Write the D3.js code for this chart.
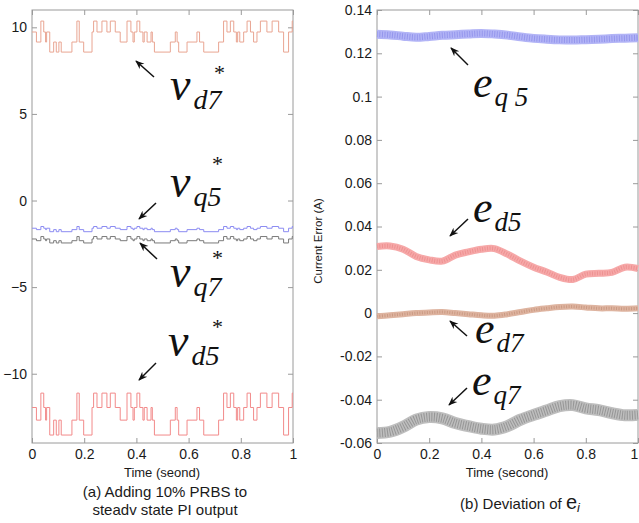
<!DOCTYPE html>
<html><head><meta charset="utf-8">
<script src="https://cdn.jsdelivr.net/npm/d3@7/dist/d3.min.js"></script>
<style>
html,body{margin:0;padding:0;background:#fff;}
svg{display:block;}
</style></head>
<body>
<svg id="c" width="639" height="523"></svg>
<script>
// ---------- DATA ----------
// Left panel: PRBS step signals (step start times, value held until next time)
const prbsTimes = [0,0.017,0.034,0.045,0.052,0.056,0.068,0.083,0.093,0.103,
  0.112,0.153,0.172,0.181,0.198,0.230,0.236,0.249,0.268,0.287,
  0.300,0.319,0.338,0.364,0.379,0.387,0.392,0.402,0.413,0.425,
  0.430,0.441,0.456,0.461,0.469,0.530,0.549,0.556,0.562,0.594,
  0.632,0.642,0.658,0.715,0.734,0.747,0.760,0.773,0.783,0.788,
  0.796,0.811,0.824,0.837,0.849,0.862,0.875,0.900,0.920,0.945,
  0.964,0.983,0.997];
const vd7 = [9.73,9.15,10.36,9.73,9.15,9.73,8.57,9.15,8.57,9.15,
  8.57,9.15,10.36,9.15,8.57,9.73,10.36,9.73,10.36,9.73,
  10.36,9.73,9.15,10.36,9.73,9.15,9.73,10.36,9.73,9.15,
  9.73,9.15,9.73,9.15,8.57,9.15,9.73,9.15,8.57,9.15,
  9.73,9.15,8.57,9.15,10.36,9.73,10.36,9.73,9.15,9.73,
  9.15,9.73,10.36,9.73,9.15,9.73,10.36,9.73,10.36,9.73,
  8.57,9.73,10.36];
const vd5 = [-11.95,-12.68,-11.12,-11.95,-12.68,-11.95,-13.54,-12.68,-13.54,-12.68,
  -13.54,-12.68,-11.12,-12.68,-13.54,-11.95,-11.12,-11.95,-11.12,-11.95,
  -11.12,-11.95,-12.68,-11.12,-11.95,-12.68,-11.95,-11.12,-11.95,-12.68,
  -11.95,-12.68,-11.95,-12.68,-13.54,-12.68,-11.95,-12.68,-13.54,-12.68,
  -11.95,-12.68,-13.54,-12.68,-11.12,-11.95,-11.12,-11.95,-12.68,-11.95,
  -12.68,-11.95,-11.12,-11.95,-12.68,-11.95,-11.12,-11.95,-11.12,-11.95,
  -13.54,-11.95,-11.12];
const vq5 = [-1.60,-1.68,-1.50,-1.60,-1.68,-1.60,-1.80,-1.68,-1.80,-1.68,
  -1.80,-1.68,-1.50,-1.68,-1.80,-1.60,-1.50,-1.60,-1.50,-1.60,
  -1.50,-1.60,-1.68,-1.50,-1.60,-1.68,-1.60,-1.50,-1.60,-1.68,
  -1.60,-1.68,-1.60,-1.68,-1.80,-1.68,-1.60,-1.68,-1.80,-1.68,
  -1.60,-1.68,-1.80,-1.68,-1.50,-1.60,-1.50,-1.60,-1.68,-1.60,
  -1.68,-1.60,-1.50,-1.60,-1.68,-1.60,-1.50,-1.60,-1.50,-1.60,
  -1.80,-1.60,-1.50];
const vq7 = [-2.22,-2.32,-2.08,-2.22,-2.32,-2.22,-2.45,-2.32,-2.45,-2.32,
  -2.45,-2.32,-2.08,-2.32,-2.45,-2.22,-2.08,-2.22,-2.08,-2.22,
  -2.08,-2.22,-2.32,-2.08,-2.22,-2.32,-2.22,-2.08,-2.22,-2.32,
  -2.22,-2.32,-2.22,-2.32,-2.45,-2.32,-2.22,-2.32,-2.45,-2.32,
  -2.22,-2.32,-2.45,-2.32,-2.08,-2.22,-2.08,-2.22,-2.32,-2.22,
  -2.32,-2.22,-2.08,-2.22,-2.32,-2.22,-2.08,-2.22,-2.08,-2.22,
  -2.45,-2.22,-2.08];
const leftYTicks = [10,5,0,-5,-10];
const xTicks = [0,0.2,0.4,0.6,0.8,1];

// Right panel: current error bands (centre values)
const errTimes = [0,0.05,0.1,0.15,0.2,0.25,0.3,0.35,0.4,0.45,0.5,0.55,0.6,0.65,0.7,0.75,0.8,0.85,0.9,0.95,1];
const eq5 = [0.1288,0.1285,0.1279,0.1274,0.1278,0.1283,0.1286,0.1289,0.1292,0.1289,0.1284,0.1276,0.1269,0.1265,0.1262,0.1261,0.1263,0.1265,0.1268,0.1270,0.1272];
const ed5 = [0.0308,0.0310,0.0295,0.0262,0.0246,0.0240,0.0268,0.0283,0.0295,0.0298,0.0272,0.0240,0.0212,0.0190,0.0165,0.0155,0.0180,0.0184,0.0188,0.0212,0.0206];
const ed7 = [-0.0015,-0.0010,-0.0005,0.0000,0.0003,0.0005,0.0000,-0.0005,-0.0010,-0.0012,-0.0005,0.0005,0.0015,0.0022,0.0028,0.0030,0.0026,0.0022,0.0022,0.0020,0.0022];
const eq7 = [-0.0554,-0.0548,-0.0525,-0.0492,-0.0480,-0.0486,-0.0508,-0.0522,-0.0534,-0.0538,-0.0522,-0.0492,-0.0470,-0.0450,-0.0430,-0.0425,-0.0440,-0.0448,-0.0462,-0.0472,-0.0470];
const rightYTicks = [0.14,0.12,0.1,0.08,0.06,0.04,0.02,0,-0.02,-0.04,-0.06];
const rightYLabels = ["0.14","0.12","0.1","0.08","0.06","0.04","0.02","0","-0.02","-0.04","-0.06"];

// ---------- DRAW ----------
const svg = d3.select("#c");
const axisColor = "#9a9a9a";
const sans = "'Liberation Sans', Arial, sans-serif";
const serif = "'Liberation Serif', 'Times New Roman', serif";

svg.append("defs").append("marker")
  .attr("id","ah").attr("viewBox","0 0 10 10").attr("refX",9).attr("refY",5)
  .attr("markerWidth",9).attr("markerHeight",9).attr("markerUnits","userSpaceOnUse")
  .attr("orient","auto")
  .append("path").attr("d","M0,1 L10,5 L0,9 L3,5 Z").attr("fill","#111");

function panel(x0,x1,y0,y1,ydom,yticks,ylabels){
  const x = d3.scaleLinear().domain([0,1]).range([x0,x1]);
  const y = d3.scaleLinear().domain(ydom).range([y1,y0]);
  const g = svg.append("g");
  g.append("rect").attr("x",x0).attr("y",y0).attr("width",x1-x0).attr("height",y1-y0)
    .attr("fill","none").attr("stroke",axisColor).attr("stroke-width",1);
  const fmtY = (d,i)=> ylabels ? ylabels[i] : d3.format("")(d);
  const ax = [
    g.append("g").attr("transform",`translate(${x0},0)`).call(d3.axisLeft(y).tickValues(yticks).tickSize(-5).tickSizeOuter(0).tickPadding(5).tickFormat(fmtY)),
    g.append("g").attr("transform",`translate(${x1},0)`).call(d3.axisRight(y).tickValues(yticks).tickSize(-5).tickSizeOuter(0).tickFormat("")),
    g.append("g").attr("class","xb").attr("transform",`translate(0,${y1})`).call(d3.axisBottom(x).tickValues(xTicks).tickSize(-5).tickSizeOuter(0).tickPadding(6).tickFormat(d3.format(""))),
    g.append("g").attr("transform",`translate(0,${y0})`).call(d3.axisTop(x).tickValues(xTicks).tickSize(-5).tickSizeOuter(0).tickFormat(""))
  ];
  ax.forEach(a=>{
    a.select(".domain").remove();
    a.selectAll("line").attr("stroke",axisColor);
    a.selectAll("text").attr("fill","#1a1a1a").style("font-family",sans).style("font-size","14px");
  });
  return {x,y,g};
}

// Left panel
const L = panel(32,293,10,443,[-14,11],leftYTicks,null);
const stepLine = d3.line().x(d=>L.x(d[0])).y(d=>L.y(d[1])).curve(d3.curveStepAfter);
function stepData(vals){ const d = prbsTimes.map((t,i)=>[t,vals[i]]); d.push([1,vals[vals.length-1]]); return d; }
[[vd7,"#e9a592"],[vd5,"#f28a8a"],[vq5,"#8c8cf2"],[vq7,"#7a7a7a"]].forEach(([v,c])=>{
  L.g.append("path").attr("d",stepLine(stepData(v))).attr("fill","none").attr("stroke",c).attr("stroke-width",1);
});

// Right panel
const R = panel(377,638,10,443,[-0.06,0.14],rightYTicks,rightYLabels);
R.g.selectAll(".xb text").filter(d=>d===1).attr("dx",-4);
const bandLine = d3.line().x(d=>R.x(d[0])).y(d=>R.y(d[1])).curve(d3.curveCatmullRom);
function bandData(vals){ return errTimes.map((t,i)=>[t,vals[i]]); }
[[eq5,"#b2b4f6","#6a6ade",9],[ed5,"#f6a8a8","#e07070",7],[ed7,"#deb4a0","#b07458",6],[eq7,"#bebebe","#5a5a5a",12]].forEach(([v,c,dk,w])=>{
  const d = bandLine(bandData(v));
  R.g.append("path").attr("d",d).attr("fill","none").attr("stroke",c).attr("stroke-width",w);
  R.g.append("path").attr("d",d).attr("fill","none").attr("stroke",dk).attr("stroke-width",w-3)
    .attr("stroke-dasharray","1 1.5").attr("opacity",0.4);
});

// Axis titles & captions
function txt(x,y,s,size,anchor){
  return svg.append("text").attr("x",x).attr("y",y).attr("text-anchor",anchor||"middle")
    .style("font-family",sans).style("font-size",size+"px").attr("fill","#1a1a1a").text(s);
}
txt(162,477,"Time (seond)",13);
txt(165,497,"(a) Adding 10% PRBS to",15);
txt(165,515,"steadv state PI output",15);
txt(507,477,"Time (second)",13);
const cap = svg.append("text").attr("x",520).attr("y",509).attr("text-anchor","middle")
  .style("font-family",sans).style("font-size","15px").attr("fill","#1a1a1a");
cap.append("tspan").text("(b) Deviation of ");
cap.append("tspan").style("font-size","20px").text("e");
cap.append("tspan").attr("dy",3).style("font-style","italic").style("font-size","13px").text("i");
svg.append("text").attr("transform","translate(322,241) rotate(-90)").attr("text-anchor","middle")
  .style("font-family",sans).style("font-size","11.5px").attr("fill","#1a1a1a").text("Current Error (A)");

// Annotations (italic serif symbols with arrows)
function sym(x,y,main,sub,star,opts){
  const o = Object.assign({ms:46,ss:28,dx:3,starDx:40,starDy:-34},opts||{});
  const t = svg.append("text").attr("x",x).attr("y",y)
    .style("font-family",serif).style("font-style","italic").attr("fill","#111");
  t.append("tspan").style("font-size",o.ms+"px").text(main);
  t.append("tspan").attr("dy",9).attr("dx",o.dx).style("font-size",o.ss+"px").text(sub);
  if(star){
    svg.append("text").attr("x",x+o.starDx).attr("y",y+o.starDy)
      .style("font-family",serif).style("font-size","22px").attr("fill","#111").text("*");
  }
}
function arrow(x1,y1,x2,y2){
  svg.append("line").attr("x1",x1).attr("y1",y1).attr("x2",x2).attr("y2",y2)
    .attr("stroke","#111").attr("stroke-width",1.5).attr("marker-end","url(#ah)");
}
sym(170,100,"v","d7",true,{starDx:44,starDy:-20});
arrow(154,77,136,61);
sym(170,197,"v","q5",true,{starDx:42,starDy:-26});
arrow(156,203,139,219);
sym(170,287,"v","q7",true,{starDx:42,starDy:-22});
arrow(157,259,140,243);
sym(168,356,"v","d5",true,{starDx:44,starDy:-22});
arrow(156,363,139,380);

sym(473,97,"e","q 5",false,{ss:27,dx:2,ms:44});
arrow(468,65,451,48);
sym(473,222,"e","d5",false,{ss:27,dx:2,ms:44});
arrow(468,219,450,236);
sym(475,343,"e","d7",false,{ss:27,dx:2,ms:44});
arrow(467,336,450,321);
sym(472,395,"e","q7",false,{ss:27,dx:2,ms:44});
arrow(467,388,449,405);
</script>
</body></html>
